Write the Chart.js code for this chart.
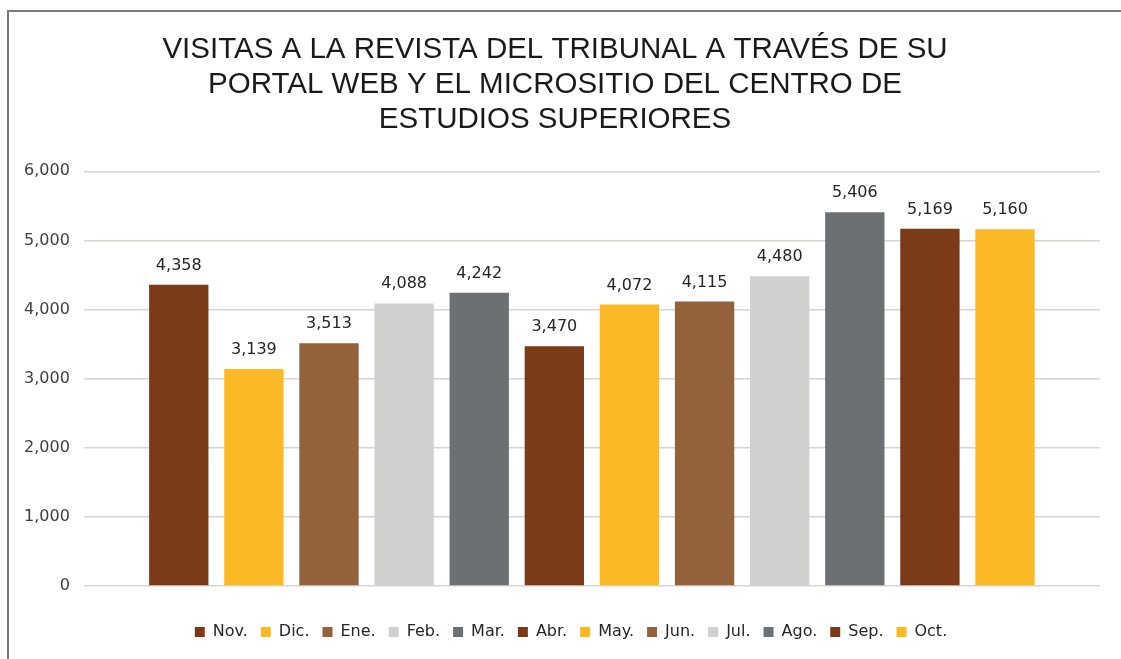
<!DOCTYPE html>
<html>
<head>
<meta charset="utf-8">
<script src="https://cdn.jsdelivr.net/npm/chart.js@4"></script>
<style>
  html, body { margin: 0; padding: 0; background: #fff; }
  #wrap { width: 1121px; height: 659px; position: relative; }
</style>
</head>
<body>
<div id="wrap"><canvas id="myChart" width="1121" height="659"></canvas></div>
<script>
const months = ["Nov.", "Dic.", "Ene.", "Feb.", "Mar.", "Abr.", "May.", "Jun.", "Jul.", "Ago.", "Sep.", "Oct."];
const visits = [4358, 3139, 3513, 4088, 4242, 3470, 4072, 4115, 4480, 5406, 5169, 5160];
const barColors = ["#7B3A18", "#FBBA25", "#93613A", "#D0D0CF", "#6D7072", "#7B3A18",
                   "#FBBA25", "#93613A", "#D0D0CF", "#6D7072", "#7B3A18", "#FBBA25"];
const yTicks = [0, 1000, 2000, 3000, 4000, 5000, 6000];
const titleLines = ["VISITAS A LA REVISTA DEL TRIBUNAL A TRAVÉS DE SU",
                    "PORTAL WEB Y EL MICROSITIO DEL CENTRO DE",
                    "ESTUDIOS SUPERIORES"];

const titleFont = "'Liberation Sans', Arial, sans-serif";
const labelFont = "'DejaVu Sans', 'Liberation Sans', sans-serif";

// one dataset per month so each gets its own legend entry
const datasets = months.map((m, i) => ({
  label: m,
  data: [visits[i]],
  backgroundColor: barColors[i],
  borderWidth: 0,
  categoryPercentage: 0.887,
  barPercentage: 0.79
}));

// draws the number above each bar
const valueLabels = {
  id: 'valueLabels',
  afterDatasetsDraw(chart) {
    const ctx = chart.ctx;
    ctx.save();
    ctx.font = "16px " + labelFont;
    ctx.fillStyle = "#262626";
    ctx.textAlign = "center";
    ctx.textBaseline = "alphabetic";
    chart.data.datasets.forEach((ds, i) => {
      const bar = chart.getDatasetMeta(i).data[0];
      ctx.fillText(ds.data[0].toLocaleString('en-US'), bar.x, bar.y - 15);
    });
    ctx.restore();
  }
};

// outer frame of the figure, and nudge the legend a bit to the right
const frame = {
  id: 'frame',
  afterLayout(chart) {
    chart.legend.left += 16;
    chart.legend.right += 16;
  },
  beforeDraw(chart) {
    const ctx = chart.ctx;
    ctx.save();
    ctx.strokeStyle = "#7a7a7a";
    ctx.lineWidth = 2;
    ctx.strokeRect(8, 11, 1140, 700);
    ctx.restore();
  }
};

const ctx = document.getElementById('myChart').getContext('2d');
new Chart(ctx, {
  type: 'bar',
  data: {
    labels: [""],
    datasets: datasets
  },
  options: {
    responsive: false,
    animation: false,
    layout: { padding: { left: 10, right: 21, top: 24, bottom: 9 } },
    plugins: {
      title: {
        display: true,
        text: titleLines,
        color: "#1a1a1a",
        font: { family: titleFont, size: 29.5, weight: 'normal', lineHeight: 1.19 },
        padding: { top: 8, bottom: 34 }
      },
      legend: {
        position: 'bottom',
        labels: {
          boxWidth: 10,
          boxHeight: 10,
          padding: 13,
          color: "#262626",
          font: { family: labelFont, size: 16 }
        }
      },
      tooltip: { enabled: false }
    },
    scales: {
      x: {
        ticks: { display: false },
        grid: { display: false },
        border: { display: false },
        afterFit(axis) { axis.height = 25; }
      },
      y: {
        min: 0,
        max: 6000,
        afterBuildTicks(axis) { axis.ticks = yTicks.map(v => ({ value: v })); },
        ticks: {
          color: "#404040",
          padding: 14,
          font: { family: labelFont, size: 16 },
          callback: v => v.toLocaleString('en-US')
        },
        grid: { color: "#DAD4D0", lineWidth: 1.5, drawTicks: false },
        border: { display: false }
      }
    }
  },
  plugins: [frame, valueLabels]
});
</script>
</body>
</html>
